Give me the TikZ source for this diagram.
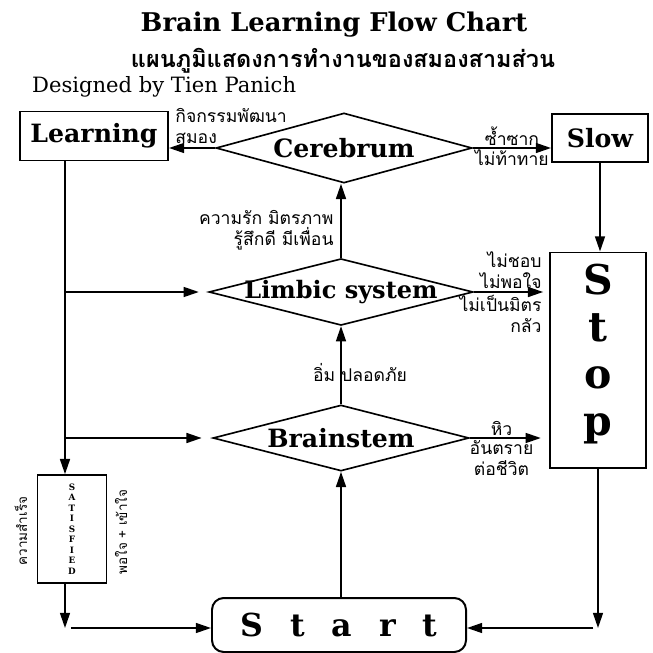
\documentclass[tikz,border=0pt]{standalone}
\usepackage{fontspec}
\setmainfont{DejaVu Serif}
\newfontfamily\thaifont[Script=Thai]{Loma}
\usetikzlibrary{shapes.geometric,arrows.meta,positioning}

\tikzset{
  boxlabel/.style={draw, line width=1.7pt, inner sep=0pt, font=\bfseries\fontsize{21.5}{24}\selectfont},
  decision/.style={diamond, draw, line width=1.4pt, inner sep=0pt},
  diamondtext/.style={font=\bfseries\fontsize{21.5}{24}\selectfont},
  flow/.style={line width=1.5pt, -{Triangle[length=13pt,width=8.5pt]}},
  thailabel/.style={font=\thaifont\fontsize{15}{18}\selectfont, inner sep=1pt},
  sidelabel/.style={font=\thaifont\fontsize{11.5}{13}\selectfont, rotate=90, inner sep=0pt},
}

\begin{document}
\begin{tikzpicture}[x=0.03cm, y=-0.03cm]
    \useasboundingbox (0,0) rectangle (653,653);

    % headings
    \node[font=\bfseries\fontsize{22}{26}\selectfont] (title) at (334,25) {Brain Learning Flow Chart};
    \node[font=\thaifont\bfseries\fontsize{20}{24}\selectfont] (subtitle) at (343,61) {แผนภูมิแสดงการทำงานของสมองสามส่วน};
    \node[anchor=west, font=\fontsize{18}{22}\selectfont] (designer) at (28,87) {Designed by Tien Panich};

    % boxes
    \node[boxlabel, minimum width=4.44cm, minimum height=1.47cm] (learning) at (94,136) {Learning};
    \node[boxlabel, minimum width=2.88cm, minimum height=1.44cm] (slow) at (600,138) {Slow};
    \node[boxlabel, minimum width=2.88cm, minimum height=6.45cm, align=center, text depth=17pt,
          font=\bfseries\fontsize{35}{40}\selectfont] (stop) at (598,360) {S\\t\\o\\p};
    \node[draw, line width=1.4pt, minimum width=2.07cm, minimum height=3.24cm, align=center,
          font=\bfseries\fontsize{7.5}{9}\selectfont] (satisfied) at (72,529) {S\\A\\T\\I\\S\\F\\I\\E\\D};
    \node[boxlabel, rounded corners=10pt, minimum width=7.62cm, minimum height=1.62cm,
          font=\bfseries\fontsize{27}{30}\selectfont] (start) at (339,625) {\spaceskip=23pt S t a r t};

    % diamonds
    \node[decision, minimum width=7.68cm, minimum height=2.1cm, label={[diamondtext]center:Cerebrum}] (cerebrum) at (344,148) {};
    \node[decision, minimum width=7.92cm, minimum height=2cm, label={[diamondtext, font=\bfseries\fontsize{20.5}{24}\selectfont]center:Limbic system}] (limbic) at (341,292) {};
    \node[decision, minimum width=7.68cm, minimum height=1.98cm, label={[diamondtext]center:Brainstem}] (brainstem) at (341,438) {};

    % main column
    \draw[flow] (start.north -| brainstem.south) -- (brainstem.south);
    \draw[flow] (brainstem.north) -- (brainstem.north |- limbic.south);
    \draw[flow] (limbic.north) -- (limbic.north |- cerebrum.south);
    \node[thailabel] (safe) at (360,373) {อิ่ม ปลอดภัย};
    \node[thailabel, anchor=east, align=right] (love) at (335,230) {ความรัก มิตรภาพ\\รู้สึกดี มีเพื่อน};

    % cerebrum branches
    \draw[flow] (cerebrum.west) -- (learning.east |- cerebrum.west);
    \node[thailabel, anchor=west, align=left] (develop) at (174,126) {กิจกรรมพัฒนา\\สมอง};
    \draw[flow] (cerebrum.east) -- node[thailabel, above]{ซ้ำซาก} node[thailabel, below]{ไม่ท้าทาย} (slow.west |- cerebrum.east);
    \draw[flow] (slow.south) -- (slow.south |- stop.north);

    % to stop
    \draw[flow, shorten >=5pt] (limbic.east) -- (stop.west |- limbic.east);
    \node[thailabel, anchor=south east, align=right] (dislike) at (543,290) {ไม่ชอบ\\ไม่พอใจ};
    \node[thailabel, anchor=north east, align=right] (fear) at (543,294) {ไม่เป็นมิตร\\กลัว};
    \draw[flow, shorten >=7pt] (brainstem.east) -- node[thailabel, pos=0.4, above]{หิว}
        node[thailabel, pos=0.4, below, align=center]{อันตราย\\ต่อชีวิต} (stop.west |- brainstem.east);

    % left trunk
    \coordinate (trunk) at (65,0);
    \coordinate (satcorner) at (65,628);
    \coordinate (stopcorner) at (598,628);
    \draw[flow] (learning.south -| trunk) -- (satisfied.north -| trunk);
    \draw[flow, shorten >=8pt] (limbic.west -| trunk) -- (limbic.west);
    \draw[flow, shorten >=9pt] (brainstem.west -| trunk) -- (brainstem.west);
    \node[sidelabel] (success) at (21,531) {ความสำเร็จ};
    \node[sidelabel] (content) at (121,532) {พอใจ + เข้าใจ};
    \draw[flow] (satisfied.south -| trunk) -- (satcorner);
    \draw[flow] ([xshift=5pt]satcorner) -- (start.west |- satcorner);

    % back to start
    \draw[flow] (stop.south) -- (stopcorner);
    \draw[flow] ([xshift=-4pt]stopcorner) -- (start.east |- stopcorner);
\end{tikzpicture}
\end{document}
